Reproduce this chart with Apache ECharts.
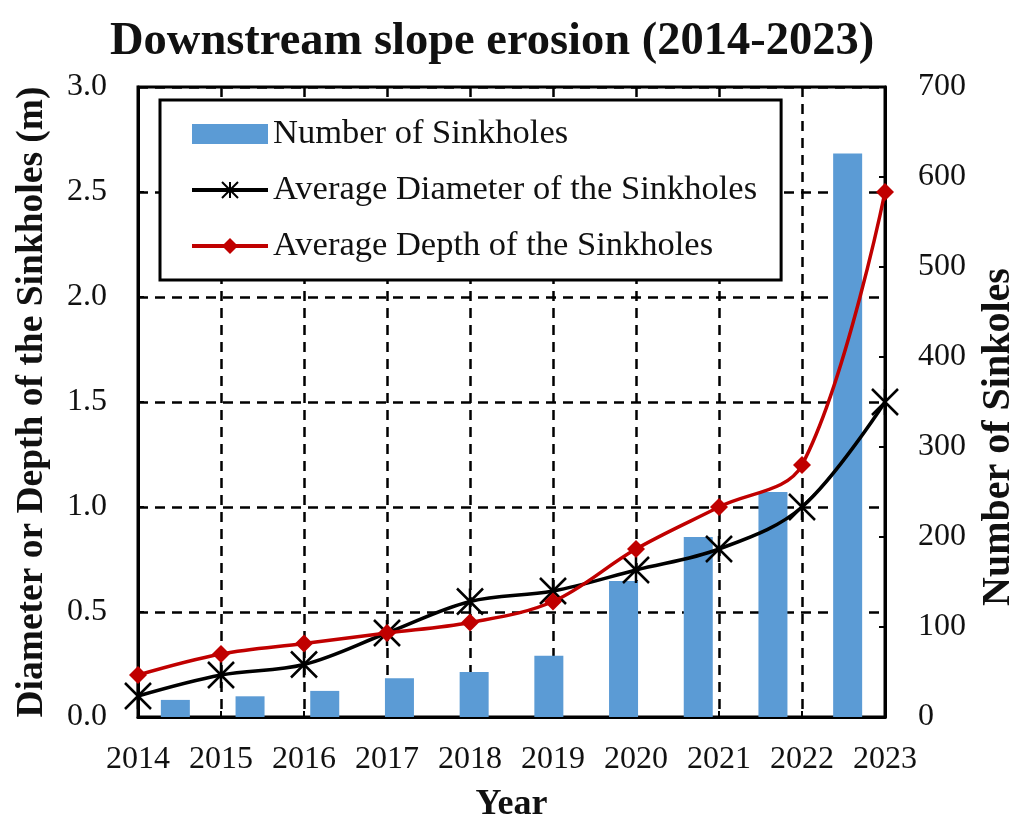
<!DOCTYPE html>
<html lang="en">
<head>
    <meta charset="UTF-8">
    <title>Downstream slope erosion (2014-2023)</title>
    <script src="https://cdn.jsdelivr.net/npm/echarts@6.0.0/dist/echarts.min.js"></script>
    <style>
        html, body {
            margin: 0;
            padding: 0;
            background: #fff;
        }
        #chart {
            width: 1015px;
            height: 818px;
        }
    </style>
</head>
<body>
    <div id="chart"></div>
    <script>
        // data
        const years = ['2014', '2015', '2016', '2017', '2018', '2019', '2020', '2021', '2022', '2023'];
        const sinkholeCount = [19, 23, 29, 43, 50, 68, 151, 200, 250, 626];
        const avgDiameter = [0.1, 0.2, 0.25, 0.4, 0.55, 0.6, 0.7, 0.8, 1.0, 1.5];
        const avgDepth = [0.2, 0.3, 0.35, 0.4, 0.45, 0.55, 0.8, 1.0, 1.2, 2.5];

        const serif = "'Liberation Serif', 'Times New Roman', serif";
        const ink = '#111';
        const dash = [10, 7];

        // excel style "*" marker
        const asterisk = 'path://M0,0L20,20M20,0L0,20M10,0L10,20';

        const chart = echarts.init(document.getElementById('chart'));

        const option = {
            animation: false,
            backgroundColor: '#fff',
            title: {
                text: 'Downstream slope erosion (2014-2023)',
                left: 105,
                top: 13,
                textStyle: {
                    fontFamily: serif,
                    fontSize: 46.5,
                    fontWeight: 'bold',
                    color: ink
                }
            },
            legend: {
                orient: 'vertical',
                left: 160,
                top: 100,
                padding: [16, 24, 16, 30],
                itemGap: 20,
                itemWidth: 76,
                itemHeight: 20,
                backgroundColor: '#fff',
                borderColor: '#000',
                borderWidth: 3,
                lineStyle: { width: 4 },
                textStyle: {
                    fontFamily: serif,
                    fontSize: 34.5,
                    color: ink,
                    lineHeight: 36
                },
                data: [
                    { name: 'Number of Sinkholes', icon: 'rect' },
                    { name: 'Average Diameter of the Sinkholes' },
                    { name: 'Average Depth of the Sinkholes' }
                ]
            },
            grid: {
                left: 138,
                right: 130,
                top: 87,
                bottom: 101,
                outerBoundsMode: 'none',
                containLabel: false,
                show: true,
                borderColor: '#000',
                borderWidth: 3
            },
            xAxis: [
                {
                    type: 'category',
                    data: years,
                    boundaryGap: false,
                    name: 'Year',
                    nameLocation: 'middle',
                    nameGap: 70,
                    nameTextStyle: { fontFamily: serif, fontSize: 36, fontWeight: 'bold', color: ink },
                    axisLine: { lineStyle: { color: '#000', width: 3 } },
                    axisTick: { inside: true, length: 6, interval: 0, lineStyle: { color: '#000', width: 2 } },
                    axisLabel: { fontFamily: serif, fontSize: 32, color: ink, margin: 27, interval: 0 },
                    splitLine: { show: true, interval: 0, lineStyle: { color: '#000', width: 2.5, type: dash } }
                },
                {
                    type: 'category',
                    data: years,
                    boundaryGap: true,
                    show: false
                }
            ],
            yAxis: [
                {
                    type: 'value',
                    min: 0,
                    max: 3,
                    interval: 0.5,
                    name: 'Diameter or Depth of the Sinkholes (m)',
                    nameLocation: 'middle',
                    nameRotate: 90,
                    nameGap: 87,
                    nameTextStyle: { fontFamily: serif, fontSize: 37.5, fontWeight: 'bold', color: ink },
                    axisLine: { show: true, lineStyle: { color: '#000', width: 3 } },
                    axisTick: { show: true, inside: true, length: 6, lineStyle: { color: '#000', width: 2 } },
                    axisLabel: {
                        fontFamily: serif, fontSize: 32, color: ink, margin: 31,
                        formatter: v => v.toFixed(1)
                    },
                    splitLine: { show: true, lineStyle: { color: '#000', width: 2.5, type: dash } }
                },
                {
                    type: 'value',
                    min: 0,
                    max: 700,
                    interval: 100,
                    position: 'right',
                    name: 'Number of Sinkoles',
                    nameLocation: 'middle',
                    nameRotate: 90,
                    nameGap: 94,
                    nameTextStyle: {
                        fontFamily: serif, fontSize: 40, fontWeight: 'bold', color: ink,
                        padding: [0, 70, 0, 0]
                    },
                    axisLine: { show: true, lineStyle: { color: '#000', width: 3 } },
                    axisTick: { show: true, inside: true, length: 6, lineStyle: { color: '#000', width: 2 } },
                    axisLabel: { fontFamily: serif, fontSize: 32, color: ink, margin: 33 },
                    splitLine: { show: false }
                }
            ],
            series: [
                {
                    name: 'Number of Sinkholes',
                    type: 'bar',
                    xAxisIndex: 1,
                    yAxisIndex: 1,
                    barWidth: 29,
                    itemStyle: { color: '#5B9BD5' },
                    data: sinkholeCount,
                    z: 2
                },
                {
                    name: 'Average Diameter of the Sinkholes',
                    type: 'line',
                    xAxisIndex: 0,
                    yAxisIndex: 0,
                    smooth: 0.35,
                    symbol: asterisk,
                    symbolSize: 26,
                    lineStyle: { color: '#000', width: 3.5 },
                    itemStyle: { color: '#000', borderColor: '#000', borderWidth: 2.5 },
                    data: avgDiameter,
                    z: 3
                },
                {
                    name: 'Average Depth of the Sinkholes',
                    type: 'line',
                    xAxisIndex: 0,
                    yAxisIndex: 0,
                    smooth: 0.35,
                    symbol: 'diamond',
                    symbolSize: 18,
                    lineStyle: { color: '#C00000', width: 3.5 },
                    itemStyle: { color: '#C00000' },
                    data: avgDepth,
                    z: 4
                }
            ]
        };

        chart.setOption(option);

        window.addEventListener('resize', function () {
            chart.resize();
        });
    </script>
</body>
</html>
